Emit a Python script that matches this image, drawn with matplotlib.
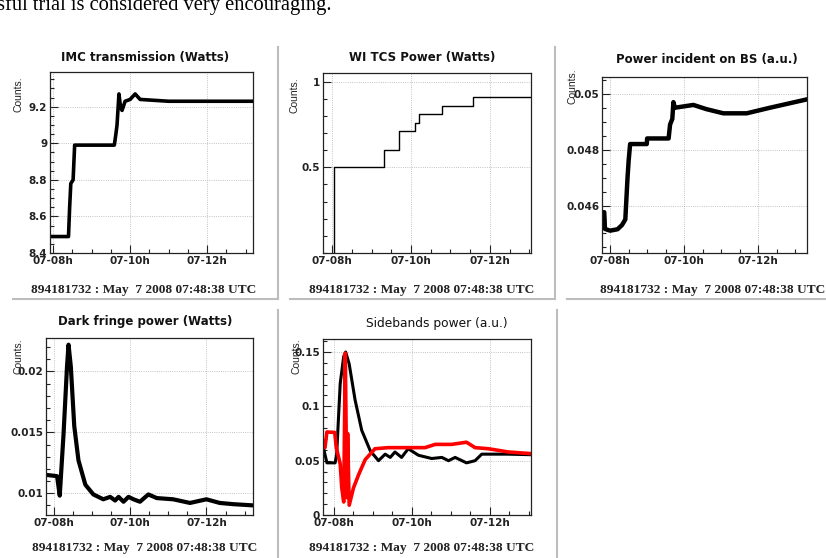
import matplotlib
matplotlib.use("Agg")
import matplotlib.pyplot as plt
from matplotlib.ticker import MultipleLocator, FixedLocator, FuncFormatter
from matplotlib.lines import Line2D

W, H = 826, 558

# ---- data (hours of May 7 2008) ----
imc_t = [7.99, 8.40, 8.43, 8.46, 8.52, 8.56, 9.59, 9.63, 9.66, 9.71, 9.75, 9.79,
         9.87, 10.0, 10.13, 10.26, 11.0, 12.0, 13.19]
imc_v = [8.49, 8.49, 8.65, 8.78, 8.80, 8.99, 8.99, 9.05, 9.10, 9.27, 9.20, 9.18,
         9.23, 9.24, 9.27, 9.24, 9.23, 9.23, 9.23]

tcs_t = [8.05, 8.05, 9.32, 9.70, 10.10, 10.20, 10.78, 11.57, 13.04]
tcs_v = [0.0, 0.5, 0.6, 0.71, 0.76, 0.81, 0.86, 0.91, 0.91]

bs_t = [7.78, 7.84, 7.86, 8.0, 8.2, 8.32, 8.41, 8.47, 8.50, 8.54, 8.99, 9.0, 9.58,
        9.62, 9.68, 9.71, 9.75, 10.25, 10.6, 11.06, 11.69, 12.32, 13.32]
bs_v = [0.04576, 0.04576, 0.04516, 0.0451, 0.04515, 0.0453, 0.0455, 0.0470, 0.0476,
        0.0482, 0.0482, 0.0484, 0.0484, 0.0489, 0.0491, 0.0497, 0.0495, 0.0496,
        0.04945, 0.0493, 0.0493, 0.0495, 0.0498]

df_t = [7.82, 8.09, 8.16, 8.26, 8.35, 8.39, 8.45, 8.54, 8.65, 8.83, 9.04, 9.3, 9.48,
        9.61, 9.7, 9.83, 9.96, 10.09, 10.26, 10.48, 10.7, 11.13, 11.57, 12.0, 12.35,
        12.7, 13.22]
df_v = [0.0115, 0.0114, 0.0098, 0.0149, 0.0204, 0.0222, 0.0204, 0.0155, 0.0127,
        0.0107, 0.0099, 0.0095, 0.0097, 0.0094, 0.0097, 0.0093, 0.0097, 0.0095,
        0.0093, 0.0099, 0.0096, 0.0095, 0.0092, 0.0095, 0.0092, 0.0091, 0.0090]

sb_t_black = [7.74, 7.83, 8.04, 8.08, 8.17, 8.26, 8.31, 8.4, 8.55, 8.72, 8.94, 9.15,
              9.32, 9.45, 9.57, 9.74, 9.91, 10.17, 10.51, 10.77, 10.94, 11.11, 11.4,
              11.62, 11.79, 12.47, 13.05]
sb_v_black = [0.062, 0.048, 0.048, 0.056, 0.121, 0.146, 0.150, 0.139, 0.106, 0.078,
              0.059, 0.050, 0.056, 0.053, 0.058, 0.053, 0.061, 0.055, 0.052, 0.053,
              0.050, 0.053, 0.048, 0.050, 0.056, 0.056, 0.0555]
sb_t_red = [7.74, 7.78, 7.83, 8.03, 8.07, 8.13, 8.17, 8.21, 8.26, 8.30, 8.34, 8.36,
            8.40, 8.51, 8.64, 8.81, 9.06, 9.4, 9.91, 10.34, 10.6, 11.02, 11.4, 11.62,
            11.96, 12.47, 13.05]
sb_v_red = [0.0655, 0.062, 0.0764, 0.076, 0.062, 0.053, 0.047, 0.025, 0.012, 0.149,
            0.016, 0.075, 0.009, 0.025, 0.037, 0.051, 0.061, 0.062, 0.062, 0.062,
            0.065, 0.065, 0.067, 0.062, 0.061, 0.058, 0.0565]

hour_ticks = [8, 10, 12]
hour_labels = ["07-08h", "07-10h", "07-12h"]
stamp = "894181732 : May  7 2008 07:48:38 UTC"

fig = plt.figure(figsize=(W / 100, H / 100), dpi=100)
fig.patch.set_facecolor("white")


def fx(x):
    return x / W


def fy(y):
    return 1 - y / H


def make_ax(l, t, r, b):
    ax = fig.add_axes([fx(l), fy(b), (r - l) / W, (b - t) / H])
    ax.xaxis.set_major_locator(FixedLocator(hour_ticks))
    ax.xaxis.set_major_formatter(FuncFormatter(lambda v, p: hour_labels[hour_ticks.index(int(round(v)))]))
    ax.xaxis.set_minor_locator(MultipleLocator(0.5))
    ax.yaxis.set_major_formatter(FuncFormatter(lambda v, p: f"{v:g}"))
    ax.tick_params(which="both", direction="in", colors="#222222",
                   labelsize=7.5, pad=2, width=0.8)
    ax.tick_params(which="major", length=6)
    ax.tick_params(which="minor", length=3)
    ax.grid(True, which="major", ls=":", lw=0.6, color="#b0b0b0")
    for s in ax.spines.values():
        s.set_linewidth(0.9)
        s.set_color("#222222")
    return ax


def bold_labels(ax):
    for lab in ax.get_xticklabels() + ax.get_yticklabels():
        lab.set_fontweight("bold")
        lab.set_fontfamily("DejaVu Sans")


def title(x, y, s, bold=True):
    fig.text(fx(x), fy(y), s, ha="center", va="center",
             fontsize=8.5 if bold else 8.8,
             fontweight="bold" if bold else "normal", family="DejaVu Sans",
             color="#111111")


def counts(x, y):
    fig.text(fx(x), fy(y), "Counts.", rotation=90, ha="center", va="top",
             fontsize=7.5, family="Liberation Sans", color="#222222")


def date(x, y):
    fig.text(fx(x), fy(y), stamp, ha="center", va="center", fontsize=9.6,
             family="Liberation Serif", fontweight="bold", color="#222222")


# top text line from the document (cut off at the top)
fig.text(fx(-3), fy(10), "sful trial is considered very encouraging.", ha="left",
         va="baseline", fontsize=14.8, family="Liberation Serif")

# pad borders
gray = "#bdbdbd"
for (x0, y0, x1, y1) in [(278, 47, 278, 299), (13, 299, 278, 299),
                         (555, 47, 555, 299), (290, 299, 555, 299),
                         (567, 299, 826, 299),
                         (278, 310, 278, 558), (557, 310, 557, 558)]:
    fig.add_artist(Line2D([fx(x0), fx(x1)], [fy(y0), fy(y1)], color=gray, lw=1.5))

# panel 1
ax = make_ax(50, 72, 253, 253)
ax.plot(imc_t, imc_v, color="black", lw=2.6)
ax.set_xlim(7.92, 13.19)
ax.set_ylim(8.4, 9.39)
ax.yaxis.set_major_locator(MultipleLocator(0.2))
ax.yaxis.set_minor_locator(MultipleLocator(0.05))
bold_labels(ax)
title(145, 58, "IMC transmission (Watts)")
counts(18, 76)
date(144, 290)

# panel 2
ax = make_ax(323, 73, 531, 253)
ax.plot(tcs_t, tcs_v, color="black", lw=1.0, drawstyle="steps-post")
ax.set_xlim(7.77, 13.04)
ax.set_ylim(0, 1.05)
ax.yaxis.set_major_locator(FixedLocator([0.5, 1.0]))
ax.yaxis.set_minor_locator(MultipleLocator(0.1))
bold_labels(ax)
title(422, 57, "WI TCS Power (Watts)")
counts(295, 77)
date(422, 290)

# panel 3
ax = make_ax(602, 77, 807, 253)
ax.plot(bs_t, bs_v, color="black", lw=3.2)
ax.set_xlim(7.78, 13.32)
ax.set_ylim(0.0443, 0.0506)
ax.yaxis.set_major_locator(FixedLocator([0.046, 0.048, 0.05]))
ax.yaxis.set_minor_locator(MultipleLocator(0.0005))
bold_labels(ax)
title(707, 59, "Power incident on BS (a.u.)")
counts(573, 68)
date(713, 290)

# panel 4
ax = make_ax(46, 338, 253, 515)
ax.plot(df_t, df_v, color="black", lw=3.0)
ax.set_xlim(7.8, 13.22)
ax.set_ylim(0.00821, 0.02275)
ax.yaxis.set_major_locator(FixedLocator([0.01, 0.015, 0.02]))
ax.yaxis.set_minor_locator(MultipleLocator(0.001))
bold_labels(ax)
title(145, 322, "Dark fringe power (Watts)")
counts(18, 338)
date(145, 548)

# panel 5
ax = make_ax(323, 339, 531, 515)
ax.plot(sb_t_black, sb_v_black, color="black", lw=2.2)
ax.plot(sb_t_red, sb_v_red, color="#ff0000", lw=2.6)
ax.set_xlim(7.73, 13.05)
ax.set_ylim(0, 0.162)
ax.yaxis.set_major_locator(FixedLocator([0, 0.05, 0.1, 0.15]))
ax.yaxis.set_minor_locator(MultipleLocator(0.01))
bold_labels(ax)
title(437, 323, "Sidebands power (a.u.)", bold=False)
counts(297, 338)
date(422, 548)

fig.savefig("out.png", dpi=100)
